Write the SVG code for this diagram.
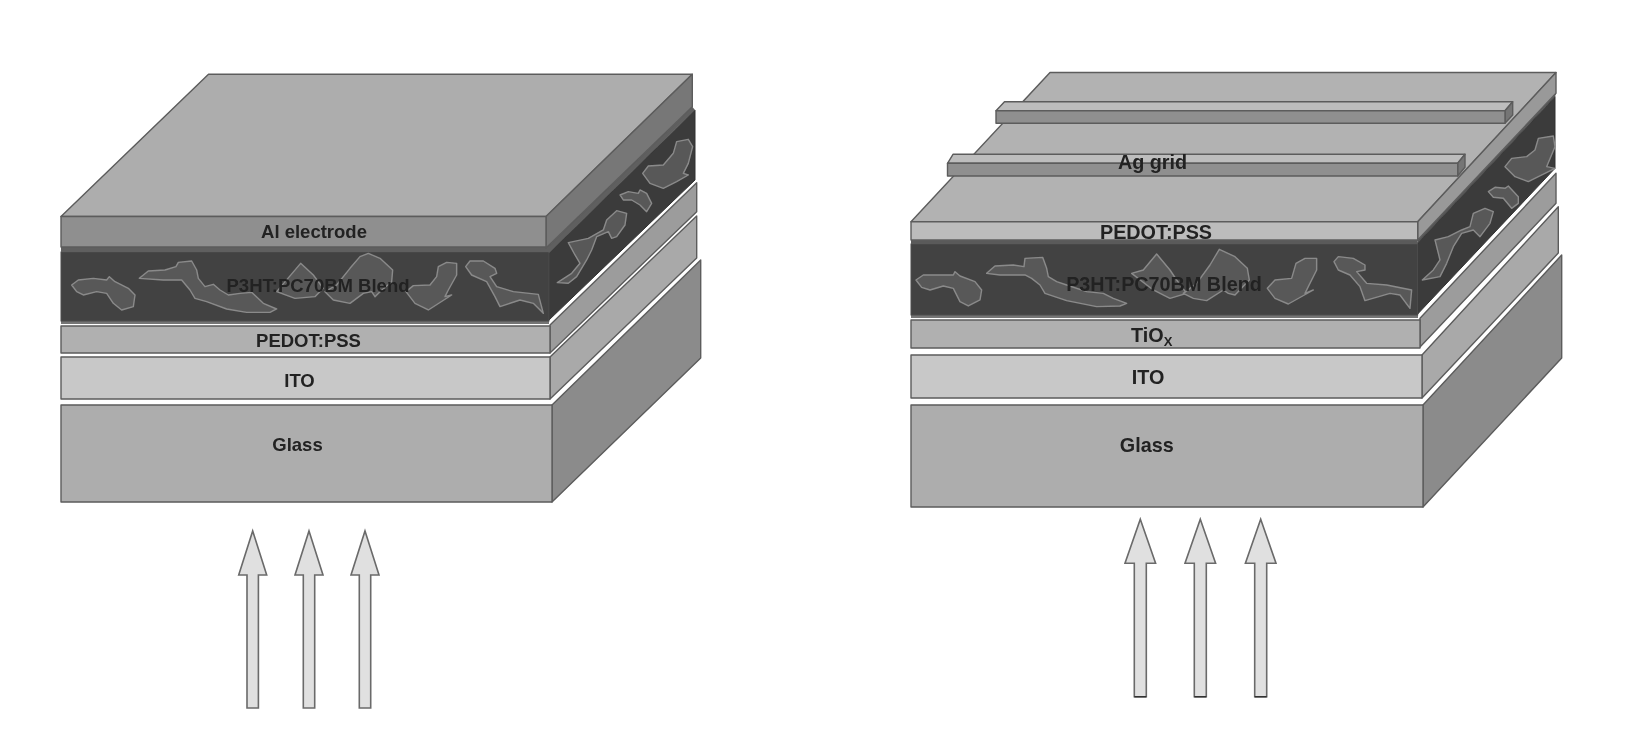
<svg xmlns="http://www.w3.org/2000/svg" width="1643" height="743" viewBox="0 0 1643 743">
<defs>
<filter id="soft" x="-2%" y="-2%" width="104%" height="104%"><feGaussianBlur stdDeviation="0.6"/></filter>
<filter id="softer" x="-10%" y="-10%" width="120%" height="120%"><feGaussianBlur stdDeviation="1.8"/></filter>
</defs>
<style>
.f{stroke:#5c5c5c;stroke-width:1.4;stroke-linejoin:round}
.blob{fill:#595959;stroke:#8a8a8a;stroke-width:1.4;vector-effect:non-scaling-stroke;stroke-linejoin:round;filter:url(#softer)}
.arrow{fill:#e0e0e0;stroke:#6a6a6a;stroke-width:1.6;stroke-linejoin:miter}
.foot{stroke:#333;stroke-width:1.6}
text{font-family:"Liberation Sans",Arial,sans-serif;font-weight:bold;fill:#222;text-anchor:middle}
.l{font-size:18.5px}
.r{font-size:19.8px}
</style>
<rect width="1643" height="743" fill="#fff"/>
<g filter="url(#soft)">
<g id="left-stack">
<g id="l-glass">
<polygon class="f" fill="#8b8b8b" points="552,405 700.7,260 700.7,358 552,502"/>
<rect class="f" fill="#adadad" x="61" y="405" width="491" height="97"/>
<text class="l" x="297.5" y="450.5">Glass</text>
</g>
<g id="l-ito">
<polygon class="f" fill="#a9a9a9" points="550,357 696.7,216 696.7,258 550,399"/>
<rect class="f" fill="#c8c8c8" x="61" y="357" width="489" height="42"/>
<text class="l" x="299.5" y="386.5">ITO</text>
</g>
<g id="l-pedot">
<polygon class="f" fill="#9c9c9c" points="550,325 696.7,182.7 696.7,211.7 550,353"/>
<rect class="f" fill="#b0b0b0" x="61" y="326" width="489" height="27"/>
<text class="l" x="308.5" y="346.5">PEDOT:PSS</text>
</g>
<g id="l-blend">
<rect x="61" y="320" width="488" height="4" fill="#747474"/>
<polygon fill="#3a3a3a" stroke="#333" stroke-width="1" points="549,252.7 695,110 695,180 549,320"/>
<rect fill="#434343" stroke="#4c4c4c" x="61" y="252" width="488" height="69"/>
<g transform="translate(50,235) scale(.3333)">
<path class="blob" d="M65,150 L85,135 L130,130 L170,135 L178,125 L195,140 L235,160 L255,180 L250,215 L215,225 L190,205 L170,175 L140,170 L100,180 L80,170Z"/>
<path class="blob" d="M268,130 L295,108 L345,105 L378,95 L385,82 L425,78 L440,105 L445,130 L465,155 L490,148 L510,165 L535,180 L570,175 L605,172 L640,205 L680,222 L660,232 L590,232 L530,222 L470,200 L435,190 L420,165 L395,135 L340,135Z"/>
<path class="blob" d="M680,170 L752,85 L790,120 L820,160 L795,185 L735,190Z"/>
</g>
<g transform="translate(300,235) scale(.3333)">
<path class="blob" d="M205,55 L240,70 L278,105 L275,140 L240,170 L225,185 L215,170 L190,175 L150,205 L100,195 L75,170 L110,150 L150,100 L180,65Z"/>
<path class="blob" d="M415,95 L440,82 L470,85 L470,120 L445,165 L435,185 L455,180 L385,225 L345,205 L318,170 L340,152 L390,150 L410,125Z"/>
<path class="blob" d="M497,95 L510,78 L550,78 L585,100 L590,115 L570,125 L590,155 L640,170 L715,178 L730,235 L700,205 L660,195 L600,215 L585,185 L560,140 L515,120Z"/>
</g>
<g transform="translate(500,60) scale(.3333)">
<path class="blob" d="M172,668 L215,640 L240,610 L225,585 L205,548 L265,535 L310,510 L320,480 L350,452 L380,460 L375,495 L350,530 L335,535 L325,515 L290,530 L275,570 L260,600 L230,650 L205,670Z"/>
<path class="blob" d="M360,405 L385,395 L415,400 L420,390 L440,400 L455,430 L440,455 L420,435 L395,420 L370,420Z"/>
<path class="blob" d="M428,340 L445,318 L490,315 L520,280 L530,245 L565,238 L578,260 L565,310 L550,340 L565,345 L530,365 L490,385 L450,370Z"/>
</g>
<text class="l" x="318" y="291.5">P3HT:PC70BM Blend</text>
</g>
<g id="l-al">
<rect x="61" y="246" width="488" height="6" fill="#5e5e5e"/>
<polygon fill="#5e5e5e" points="546,248 692.3,106.7 695,110 549,253"/>
<polygon class="f" fill="#adadad" points="208.5,74.3 692.3,74.3 546,216.5 61,216.5"/>
<polygon class="f" fill="#777" points="546,216.5 692.3,74.3 692.3,106.7 546,248"/>
<rect class="f" fill="#8f8f8f" x="61" y="216.5" width="485" height="30.5"/>
<text class="l" x="314" y="237.5">Al electrode</text>
</g>
</g>
<g id="right-stack">
<g id="r-glass">
<polygon class="f" fill="#8b8b8b" points="1423,405 1561.7,255 1561.7,358 1423,507"/>
<rect class="f" fill="#adadad" x="911" y="405" width="512" height="102"/>
<text class="r" x="1146.7" y="451.7">Glass</text>
</g>
<g id="r-ito">
<polygon class="f" fill="#a9a9a9" points="1422,355 1558.3,206.7 1558.3,253 1422,398"/>
<rect class="f" fill="#c8c8c8" x="911" y="355" width="511" height="43"/>
<text class="r" x="1148" y="384">ITO</text>
</g>
<g id="r-tiox">
<polygon class="f" fill="#9c9c9c" points="1420,318.3 1556,173.3 1556,203.3 1420,347"/>
<rect class="f" fill="#b0b0b0" x="911" y="320" width="509" height="28"/>
<text class="r" x="1151.7" y="341.7">TiO<tspan font-size="13" dy="4">X</tspan></text>
</g>
<g id="r-blend">
<rect x="911" y="314" width="507" height="4" fill="#747474"/>
<polygon fill="#3a3a3a" stroke="#333" stroke-width="1" points="1417.7,242.7 1555,96.7 1555,168.3 1417.7,314"/>
<rect fill="#434343" stroke="#4c4c4c" x="911" y="244" width="506.7" height="71"/>
<g transform="translate(900,230) scale(.3333)">
<path class="blob" d="M48,150 L70,135 L120,135 L160,135 L165,125 L180,138 L225,155 L245,180 L240,210 L205,228 L180,215 L160,175 L130,168 L90,180 L65,172Z"/>
<path class="blob" d="M260,130 L285,108 L340,105 L372,110 L375,85 L428,82 L440,115 L445,140 L470,155 L500,165 L560,185 L610,190 L640,205 L680,220 L660,228 L590,230 L500,212 L435,190 L420,165 L395,145 L375,135 L300,135Z"/>
<path class="blob" d="M695,130 L730,120 L770,72 L810,120 L830,150 L860,190 L810,205 L760,180Z"/>
</g>
<g transform="translate(1160,230) scale(.3333)">
<path class="blob" d="M178,58 L225,80 L262,115 L268,150 L225,195 L205,190 L190,180 L140,212 L100,205 L70,190 L110,160 L150,105Z"/>
<path class="blob" d="M408,100 L435,85 L470,85 L470,120 L445,170 L435,190 L460,180 L385,222 L345,205 L322,175 L345,150 L395,145Z"/>
<path class="blob" d="M522,95 L535,80 L580,85 L615,105 L615,120 L590,125 L620,160 L680,165 L755,180 L750,235 L720,195 L690,190 L615,212 L600,170 L570,135 L535,120Z"/>
</g>
<g transform="translate(1390,60) scale(.3333)">
<path class="blob" d="M97,660 L130,630 L150,600 L135,540 L175,530 L215,510 L240,500 L250,460 L285,445 L310,455 L300,490 L270,530 L250,510 L215,520 L190,560 L170,610 L150,650Z"/>
<path class="blob" d="M295,395 L315,382 L345,385 L355,378 L385,410 L385,430 L365,445 L340,415 L310,412Z"/>
<path class="blob" d="M345,320 L365,295 L410,290 L435,270 L445,235 L490,228 L495,260 L470,320 L495,325 L415,365 L375,350Z"/>
</g>
<text class="r" x="1164" y="290.5">P3HT:PC70BM Blend</text>
</g>
<g id="r-pedot">
<rect x="911" y="240" width="506.7" height="4" fill="#5a5a5a"/>
<polygon fill="#555" points="1417.7,240 1556,93.3 1555,96.7 1417.7,243"/>
<polygon class="f" fill="#b2b2b2" points="1050,72.5 1556,72.5 1417.7,221.7 911,221.7"/>
<polygon class="f" fill="#999" points="1417.7,221.7 1556,72.5 1556,93.3 1417.7,240"/>
<rect class="f" fill="#bcbcbc" x="911" y="221.7" width="506.7" height="18.3"/>
<text class="r" x="1156" y="238.5">PEDOT:PSS</text>
</g>
<g id="r-grid-back">
<polygon class="f" fill="#bdbdbd" points="1004.5,101.7 1512.7,101.7 1505,110.7 996,110.7"/>
<polygon class="f" fill="#757575" points="1505,110.7 1512.7,101.7 1512.7,115 1505,123.3"/>
<rect class="f" fill="#8f8f8f" x="996" y="110.7" width="509" height="12.6"/>
</g>
<g id="r-grid-front">
<polygon class="f" fill="#bdbdbd" points="953,154.3 1465,154.3 1457.7,163.3 947.5,163.3"/>
<polygon class="f" fill="#757575" points="1457.7,163.3 1465,154.3 1465,167.3 1457.7,176"/>
<rect class="f" fill="#8f8f8f" x="947.5" y="163.3" width="510.2" height="12.7"/>
<text class="r" x="1152.5" y="169">Ag grid</text>
</g>
</g>
<g id="connectors">
<path id="la1" class="arrow" d="M252.7,531 L266.7,575 L258.4,575 L258.4,708 L247,708 L247,575 L238.7,575Z"/>
<path id="la2" class="arrow" d="M309,531 L323,575 L314.7,575 L314.7,708 L303.3,708 L303.3,575 L295,575Z"/>
<path id="la3" class="arrow" d="M365,531 L379,575 L370.7,575 L370.7,708 L359.3,708 L359.3,575 L351,575Z"/>
<path id="ra1" class="arrow" d="M1140.3,519.3 L1155.6,563.3 L1146.3,563.3 L1146.3,696.7 L1134.3,696.7 L1134.3,563.3 L1125,563.3Z"/>
<path id="ra2" class="arrow" d="M1200.3,519.3 L1215.6,563.3 L1206.3,563.3 L1206.3,696.7 L1194.3,696.7 L1194.3,563.3 L1185,563.3Z"/>
<path id="ra3" class="arrow" d="M1260.7,519.3 L1276,563.3 L1266.7,563.3 L1266.7,696.7 L1254.7,696.7 L1254.7,563.3 L1245.4,563.3Z"/>
<path class="foot" d="M1134.3,696.7H1146.3M1194.3,696.7H1206.3M1254.7,696.7H1266.7"/>
</g>
</g>
</svg>
